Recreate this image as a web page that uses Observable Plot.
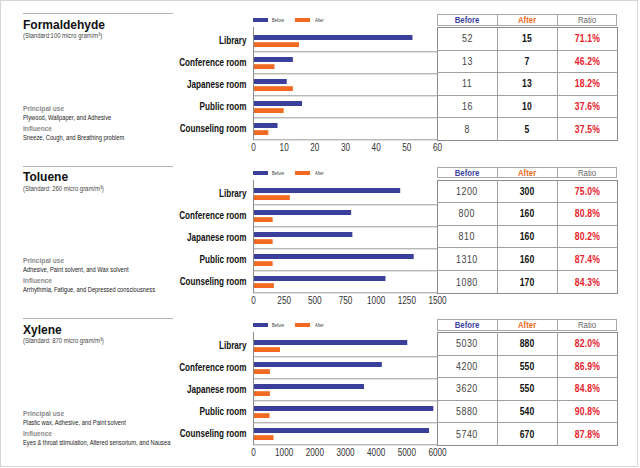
<!DOCTYPE html>
<html>
<head>
<meta charset="utf-8">
<script src="https://cdn.jsdelivr.net/npm/d3@7"></script>
<script src="https://cdn.jsdelivr.net/npm/@observablehq/plot@0.6"></script>
<style>
  body { margin: 0; background: #fff; }
  #wrap { position: relative; width: 640px; height: 468px; overflow: hidden; background: #fff; font-family: "Liberation Sans", Arial, sans-serif; }
  #frame { position: absolute; left: 0px; top: 0px; width: 638px; height: 467px; border: 1px solid #d6d6d6; box-sizing: border-box; }
  .panel { position: absolute; left: 0; width: 640px; height: 153px; }
  .abs { position: absolute; white-space: nowrap; line-height: 1; }
  .sq { display: inline-block; white-space: nowrap; }
  .rule { position: absolute; left: 23px; top: 13px; width: 150px; height: 0; border-top: 1.5px solid #b4b4b4; }
  .title { font-weight: bold; font-size: 12px; color: #111; }
  .sub { font-size: 7.4px; color: #444; }
  .lbl { font-size: 7.2px; color: #8a8a8a; font-weight: bold; }
  .txt { font-size: 7.4px; color: #222; }
  .leg { font-size: 6.2px; color: #333; }
  .sw { position: absolute; height: 4px; width: 15px; }
  .cell { position: absolute; display: flex; align-items: center; justify-content: center; box-sizing: border-box; white-space: nowrap; }
  .hdr { border: 1px solid #a8a8a8; font-size: 9.5px; }
</style>
</head>
<body>
<div id="wrap"><div id="frame"></div></div>
<script>
// ---- data ----
const rooms = ["Library", "Conference room", "Japanese room", "Public room", "Counseling room"];
const substances = ["Formaldehyde", "Toluene", "Xylene"];
const standards = ["(Standard:100 micro gram/m³)", "(Standard: 260 micro gram/m³)", "(Standard: 870 micro gram/m³)"];
const principalUses = ["Plywood, Wallpaper, and Adhesive", "Adhesive, Paint solvent, and Wax solvent", "Plastic wax, Adhesive, and Paint solvent"];
const influences = ["Sneeze, Cough, and Breathing problem", "Arrhythmia, Fatigue, and Depressed consciousness", "Eyes & throat stimulation, Altered sensorium, and Nausea"];
const seriesNames = ["Before", "After"];
const tableHeaders = ["Before", "After", "Ratio"];

const formaldehydeBefore = [52, 13, 11, 16, 8];
const formaldehydeAfter = [15, 7, 13, 10, 5];
const formaldehydeRatio = ["71.1%", "46.2%", "18.2%", "37.6%", "37.5%"];
const formaldehydeTicks = [0, 10, 20, 30, 40, 50, 60];

const tolueneBefore = [1200, 800, 810, 1310, 1080];
const tolueneAfter = [300, 160, 160, 160, 170];
const tolueneRatio = ["75.0%", "80.8%", "80.2%", "87.4%", "84.3%"];
const tolueneTicks = [0, 250, 500, 750, 1000, 1250, 1500];

const xyleneBefore = [5030, 4200, 3620, 5880, 5740];
const xyleneAfter = [880, 550, 550, 540, 670];
const xyleneRatio = ["82.0%", "86.9%", "84.8%", "90.8%", "87.8%"];
const xyleneTicks = [0, 1000, 2000, 3000, 4000, 5000, 6000];

// ---- styles ----
const BLUE = "#3b3f9c";
const ORANGE = "#f26a21";
const RED = "#e8202a";
const panelTops = [0, 152.5, 305];

const panels = [
  {before: formaldehydeBefore, after: formaldehydeAfter, ratio: formaldehydeRatio, ticks: formaldehydeTicks},
  {before: tolueneBefore, after: tolueneAfter, ratio: tolueneRatio, ticks: tolueneTicks},
  {before: xyleneBefore, after: xyleneAfter, ratio: xyleneRatio, ticks: xyleneTicks}
];

const wrap = document.getElementById("wrap");

function el(parent, cls, text, css, scale, origin) {
  const d = document.createElement("div");
  d.className = cls;
  if (text != null) {
    const s = document.createElement("span");
    s.className = "sq";
    s.textContent = text;
    if (scale) { s.style.transform = `scaleX(${scale})`; s.style.transformOrigin = origin || "left center"; }
    d.appendChild(s);
  }
  Object.assign(d.style, css || {});
  parent.appendChild(d);
  return d;
}

// horizontally condense axis labels about their anchor point (style only)
function squeezeSvgText(svg, selector, sx) {
  svg.querySelectorAll(selector).forEach(t => {
    const tr = t.getAttribute("transform");
    if (tr) t.setAttribute("transform", `${tr} scale(${sx},1)`);
  });
}

const plotTop = 27, plotBottom = 140, plotLeft = 253, plotRight = 437;
const svgH = 156;
const step = (plotBottom - plotTop) / rooms.length;

panels.forEach((p, i) => {
  const panel = el(wrap, "panel", null, {top: panelTops[i] + "px"});

  // left text block
  el(panel, "rule");
  el(panel, "abs title", substances[i], {left: "23px", top: "18.5px"});
  el(panel, "abs sub", standards[i], {left: "23px", top: "32px"}, 0.8);
  el(panel, "abs lbl", "Principal use", {left: "23px", top: "104.5px"}, 0.92);
  el(panel, "abs txt", principalUses[i], {left: "23px", top: "113.5px"}, 0.78);
  el(panel, "abs lbl", "Influence", {left: "23px", top: "124.5px"}, 0.92);
  el(panel, "abs txt", influences[i], {left: "23px", top: "133.5px"}, 0.78);

  // legend
  el(panel, "sw", null, {left: "253px", top: "18px", background: BLUE});
  el(panel, "abs leg", seriesNames[0], {left: "272px", top: "17px"}, 0.66);
  el(panel, "sw", null, {left: "295px", top: "18px", background: ORANGE});
  el(panel, "abs leg", seriesNames[1], {left: "315px", top: "17px"}, 0.66);

  // chart
  const rows = rooms.map((r, k) => ({room: r, before: p.before[k], after: p.after[k]}));
  const maxX = p.ticks[p.ticks.length - 1];
  const chart = Plot.plot({
    width: 440,
    height: svgH,
    marginLeft: plotLeft,
    marginRight: 440 - plotRight,
    marginTop: plotTop,
    marginBottom: svgH - plotBottom,
    style: {fontFamily: "'Liberation Sans', Arial, sans-serif", color: "#222", background: "transparent", overflow: "visible"},
    x: {domain: [0, maxX]},
    y: {domain: rooms, padding: 0},
    marks: [
      Plot.ruleY(rooms, {dy: step / 2, stroke: "#9a9a9a", strokeWidth: 1}),
      Plot.barX(rows, {x: "before", y: "room", fill: BLUE, insetTop: 6, insetBottom: step - 11.6}),
      Plot.barX(rows, {x: "after", y: "room", fill: ORANGE, insetTop: 13.2, insetBottom: step - 18.6}),
      Plot.ruleX([0], {stroke: "#8a8a8a", strokeWidth: 1}),
      Plot.axisX({ticks: p.ticks, tickFormat: d => String(d), tickSize: 0, tickPadding: 3, label: null, fontSize: 10, fill: "#333"}),
      Plot.axisY({tickSize: 0, tickPadding: 7, label: null, fontSize: 11, fontWeight: "bold", fill: "#111"})
    ]
  });
  squeezeSvgText(chart, '[aria-label="y-axis tick label"] text', 0.74);
  squeezeSvgText(chart, '[aria-label="x-axis tick label"] text', 0.82);
  chart.querySelectorAll('[aria-label="y-axis tick label"] text').forEach(t => t.setAttribute("font-weight", "bold"));
  const holder = el(panel, "plot", null, {position: "absolute", left: "0px", top: "0px"});
  holder.appendChild(chart);

  // table header
  const colW = (617 - plotRight) / 3;
  const hdrColors = [BLUE, ORANGE, "#666"];
  tableHeaders.forEach((h, c) => {
    el(panel, "cell hdr", h, {
      left: (plotRight + c * colW) + "px", top: "14px", width: (colW + (c < 2 ? 1 : 0)) + "px", height: "11.5px",
      color: hdrColors[c], fontWeight: c === 2 ? "normal" : "bold"
    }, 0.82, "center center");
  });
  // table body frame
  el(panel, "cell", null, {
    left: plotRight + "px", top: plotTop + "px", width: (617 - plotRight + 1) + "px", height: (plotBottom - plotTop + 1) + "px",
    border: "1.5px solid #8c8c8c"
  });
  rooms.forEach((r, k) => {
    const vals = [String(p.before[k]), String(p.after[k]), p.ratio[k]];
    vals.forEach((v, c) => {
      el(panel, "cell", v, {
        left: (plotRight + c * colW) + "px", top: (plotTop + k * step) + "px",
        width: (colW + 1) + "px", height: (step + 1) + "px",
        fontSize: "10.5px",
        color: c === 0 ? "#444" : c === 1 ? "#111" : RED,
        fontWeight: c === 0 ? "normal" : "bold",
        letterSpacing: c === 0 ? "0.6px" : "0.2px",
        borderRight: c < 2 ? "1px solid #a0a0a0" : "none",
        borderBottom: k < 4 ? "1px solid #a0a0a0" : "none"
      }, c === 0 ? 0.85 : 0.82, "center center");
    });
  });
});
</script>
</body>
</html>
